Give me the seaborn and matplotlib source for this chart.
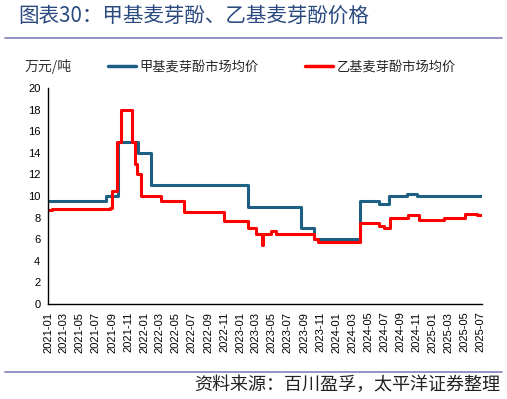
import matplotlib
matplotlib.use("Agg")
import matplotlib.pyplot as plt
import seaborn as sns
import pandas as pd
from matplotlib.lines import Line2D

sns.set_style("white")
plt.rcParams['font.family'] = ['Liberation Sans', 'Noto Sans CJK SC', 'DejaVu Sans']

# 甲基麦芽酚市场均价 (万元/吨)
methyl_dates = ["2021-01-01", "2021-08-10", "2021-09-22", "2021-12-09", "2022-01-28",
                "2023-01-30", "2023-08-19", "2023-10-09", "2024-04-01", "2024-06-10",
                "2024-07-20", "2024-09-27", "2024-11-01", "2025-07-05"]
methyl_values = [9.5, 10.0, 15.0, 14.0, 11.0,
                 9.0, 7.0, 6.0, 9.5, 9.3,
                 10.0, 10.2, 10.0, 10.0]

# 乙基麦芽酚市场均价 (万元/吨)
ethyl_dates = ["2021-01-01", "2021-01-15", "2021-08-22", "2021-09-01", "2021-09-20",
               "2021-10-06", "2021-11-16", "2021-11-26", "2021-12-05", "2021-12-21",
               "2022-03-06", "2022-06-01", "2022-10-30", "2023-01-30", "2023-03-03",
               "2023-03-26", "2023-03-29", "2023-04-27", "2023-05-16", "2023-10-09",
               "2023-10-25", "2024-04-01", "2024-06-10", "2024-07-01", "2024-07-24",
               "2024-09-28", "2024-11-09", "2025-02-15", "2025-05-04", "2025-06-20",
               "2025-07-05"]
ethyl_values = [8.7, 8.8, 8.9, 10.5, 15.0,
                18.0, 15.0, 13.0, 12.0, 10.0,
                9.5, 8.5, 7.7, 7.0, 6.5,
                5.5, 6.5, 6.8, 6.5, 6.0,
                5.7, 7.5, 7.2, 7.0, 8.0,
                8.2, 7.8, 8.0, 8.3, 8.2,
                8.2]

series_names = ["甲基麦芽酚市场均价", "乙基麦芽酚市场均价"]
colors = ["#1E5F84", "#FF0000"]

df_m = pd.DataFrame({"date": pd.to_datetime(methyl_dates), "value": methyl_values,
                     "series": series_names[0]})
df_e = pd.DataFrame({"date": pd.to_datetime(ethyl_dates), "value": ethyl_values,
                     "series": series_names[1]})

fig = plt.figure(figsize=(5.07, 3.99), dpi=100)
ax = fig.add_axes([48 / 507, 1 - 304 / 399, (482 - 48) / 507, (304 - 88) / 399])

sns.lineplot(data=df_m, x="date", y="value", color=colors[0], lw=2.2,
             drawstyle="steps-post", ax=ax, legend=False)
sns.lineplot(data=df_e, x="date", y="value", color=colors[1], lw=2.2,
             drawstyle="steps-post", ax=ax, legend=False)

ax.set_ylim(0, 20)
ax.set_yticks(range(0, 21, 2))
ax.set_xlim(pd.Timestamp("2020-12-31"), pd.Timestamp("2025-07-08"))
ticks = pd.date_range("2021-01-01", "2025-07-01", freq="2MS")
ax.set_xticks(ticks)
ax.set_xticklabels([t.strftime("%Y-%m") for t in ticks], rotation=90)
ax.set_xlabel("")
ax.set_ylabel("")
for s in ["top", "right"]:
    ax.spines[s].set_visible(False)
for s in ["left", "bottom"]:
    ax.spines[s].set_color("black")
    ax.spines[s].set_linewidth(1.0)
ax.tick_params(axis="both", which="major", direction="out", length=3.5, width=1,
               color="black", labelsize=8, labelcolor="black", pad=2)
for lab in ax.get_xticklabels() + ax.get_yticklabels():
    lab.set_fontfamily("Liberation Sans")

# title
fig.text(18 / 507, 1 - 16 / 399, "图表30：甲基麦芽酚、乙基麦芽酚价格", fontsize=14.8,
         color="#2A4A7F", va="center", ha="left",
         family=["Noto Sans CJK SC", "DejaVu Sans"])
# separator lines
fig.add_artist(Line2D([5 / 507, 502 / 507], [1 - 38 / 399, 1 - 38 / 399],
                      color="#8080C0", lw=1.2))
fig.add_artist(Line2D([5 / 507, 502 / 507], [1 - 372 / 399, 1 - 372 / 399],
                      color="#8080C0", lw=1.2))

# unit label
fig.text(25 / 507, 1 - 66 / 399, "万元/吨", fontsize=10, color="#333333",
         va="center", ha="left", family=["Noto Sans CJK SC", "DejaVu Sans"])

# legend
handles = [Line2D([], [], color=c, lw=2.5) for c in colors]
fig.legend(handles, series_names, loc="center left",
           bbox_to_anchor=(96 / 507, 1 - 67 / 399), ncol=2, frameon=False,
           handlelength=2.1, handletextpad=0.3, columnspacing=3.5,
           prop={"family": ["Noto Sans CJK SC"], "size": 9.5})

# source
fig.text(500 / 507, 1 - 385 / 399, "资料来源：百川盈孚，太平洋证券整理", fontsize=13,
         color="#222222", va="center", ha="right", style="italic",
         family=["Noto Sans CJK SC", "DejaVu Sans"])

fig.savefig("out.png", dpi=100)
